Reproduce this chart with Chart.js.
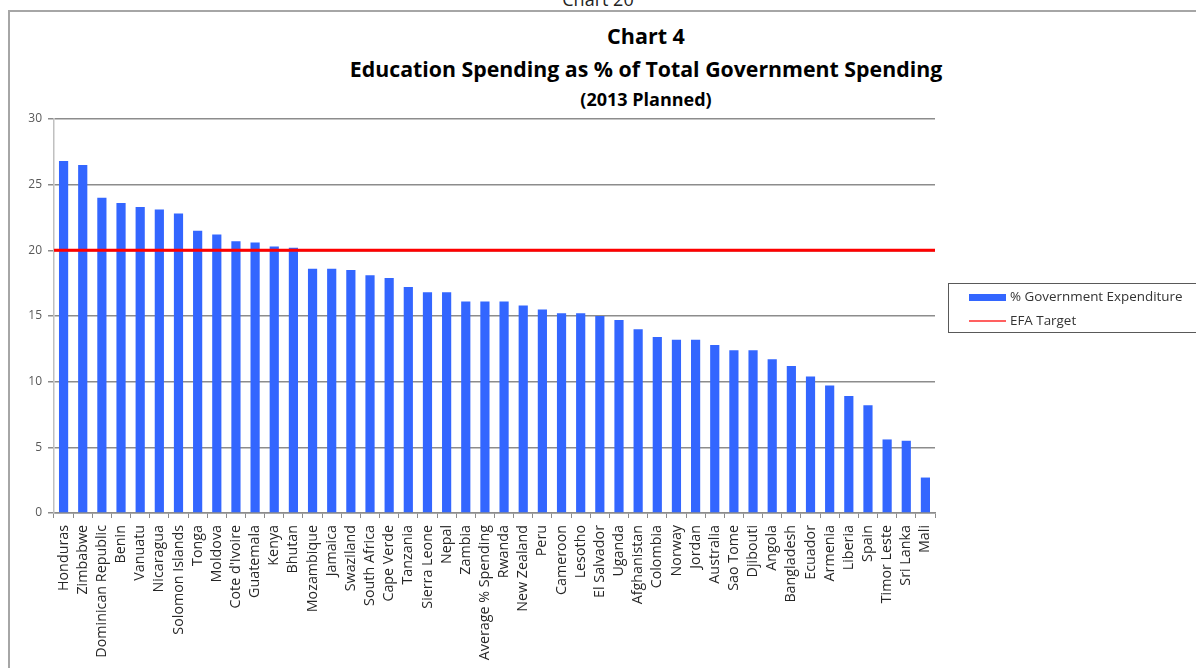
<!DOCTYPE html>
<html>
<head>
<meta charset="utf-8">
<script src="https://cdn.jsdelivr.net/npm/chart.js@4.4.1/dist/chart.umd.min.js"></script>
<style>
  html, body { margin: 0; padding: 0; background: #fff; }
  #wrap { position: relative; width: 1196px; height: 668px; overflow: hidden; font-family: "Open Sans", sans-serif; }
  #frame { position: absolute; left: 8px; top: 10px; width: 1300px; height: 800px; border: 2px solid #a6a6a6; box-sizing: border-box; }
  .t { position: absolute; left: 0; width: 1292px; text-align: center; color: #000; font-weight: bold; white-space: nowrap; }
  #outer { position: absolute; left: 0; width: 1196px; top: -13px; text-align: center; font-size: 18px; color: #222; }
  #legend { position: absolute; left: 948px; top: 283px; width: 300px; height: 50px; border: 1px solid #595959; box-sizing: border-box; font-size: 13.4px; color: #333; }
  .li { position: absolute; left: 20px; height: 16px; line-height: 16px; white-space: nowrap; }
  .sw { display: inline-block; width: 37px; vertical-align: middle; margin-right: 4px; }
  canvas { position: absolute; left: 0; top: 0; }
</style>
</head>
<body>
<div id="wrap">
  <div id="outer">Chart 20</div>
  <div id="frame"></div>
  <div class="t" style="top:21px;font-size:21.5px;">Chart 4</div>
  <div class="t" style="top:54px;font-size:21.3px;">Education Spending as % of Total Government Spending</div>
  <div class="t" style="top:87px;font-size:18px;">(2013 Planned)</div>
  <canvas id="c" width="1196" height="668"></canvas>
  <div id="legend">
    <div class="li" style="top:4px;"><span class="sw" style="height:7px;background:#3366ff;"></span>% Government Expenditure</div>
    <div class="li" style="top:28px;"><span class="sw" style="height:2px;background:#ff6060;"></span>EFA Target</div>
  </div>
</div>
<script>
const countries = ['Honduras', 'Zimbabwe', 'Dominican Republic', 'Benin', 'Vanuatu', 'Nicaragua',
  'Solomon Islands', 'Tonga', 'Moldova', "Cote d'Ivoire", 'Guatemala', 'Kenya', 'Bhutan',
  'Mozambique', 'Jamaica', 'Swaziland', 'South Africa', 'Cape Verde', 'Tanzania', 'Sierra Leone',
  'Nepal', 'Zambia', 'Average % Spending', 'Rwanda', 'New Zealand', 'Peru', 'Cameroon', 'Lesotho',
  'El Salvador', 'Uganda', 'Afghanistan', 'Colombia', 'Norway', 'Jordan', 'Australia', 'Sao Tome',
  'Djibouti', 'Angola', 'Bangladesh', 'Ecuador', 'Armenia', 'Liberia', 'Spain', 'Timor Leste',
  'Sri Lanka', 'Mali'];
const govExpenditure = [26.8, 26.5, 24.0, 23.6, 23.3, 23.1,
  22.8, 21.5, 21.2, 20.7, 20.6, 20.3, 20.2,
  18.6, 18.6, 18.5, 18.1, 17.9, 17.2, 16.8,
  16.8, 16.1, 16.1, 16.1, 15.8, 15.5, 15.2, 15.2,
  15.0, 14.7, 14.0, 13.4, 13.2, 13.2, 12.8, 12.4,
  12.4, 11.7, 11.2, 10.4, 9.7, 8.9, 8.2, 5.6,
  5.5, 2.7];
const efaTarget = 20;
const yTicks = [0, 5, 10, 15, 20, 25, 30];

// EFA target: horizontal line across the whole plot, placed by the y scale
const targetLine = {
  id: 'targetLine',
  afterDatasetsDraw(chart) {
    const { ctx, chartArea, scales } = chart;
    const y = scales.y.getPixelForValue(efaTarget);
    ctx.save();
    ctx.strokeStyle = '#ff0000';
    ctx.lineWidth = 3;
    ctx.beginPath();
    ctx.moveTo(chartArea.left, y);
    ctx.lineTo(chartArea.right, y);
    ctx.stroke();
    ctx.restore();
  }
};

new Chart(document.getElementById('c'), {
  type: 'bar',
  data: {
    labels: countries,
    datasets: [{
      label: '% Government Expenditure',
      data: govExpenditure,
      backgroundColor: '#3366ff',
      barPercentage: 0.48,
      categoryPercentage: 1
    }]
  },
  options: {
    responsive: false,
    animation: false,
    events: [],
    layout: { padding: { left: 10, top: 119, right: 261, bottom: 0 } },
    plugins: { legend: { display: false }, tooltip: { enabled: false } },
    scales: {
      x: {
        afterFit: (s) => { s.height = 155; },
        grid: { offset: true, drawOnChartArea: false, drawTicks: true, tickLength: 5, color: '#8c8c8c' },
        border: { color: '#8c8c8c', width: 1.5 },
        ticks: {
          autoSkip: false, minRotation: 90, maxRotation: 90, padding: 7,
          color: '#262626', font: { family: 'Open Sans', size: 14.3 }
        }
      },
      y: {
        min: 0, max: 30,
        afterFit: (s) => { s.width = 44; },
        afterBuildTicks: (s) => { s.ticks = yTicks.map(v => ({ value: v })); },
        grid: { color: '#8c8c8c', lineWidth: 1.5, tickLength: 6 },
        border: { color: '#c0c0c0', width: 1.5 },
        ticks: { padding: 6, color: '#595959', font: { family: 'Open Sans', size: 12 } }
      }
    }
  },
  plugins: [targetLine]
});
</script>
</body>
</html>
